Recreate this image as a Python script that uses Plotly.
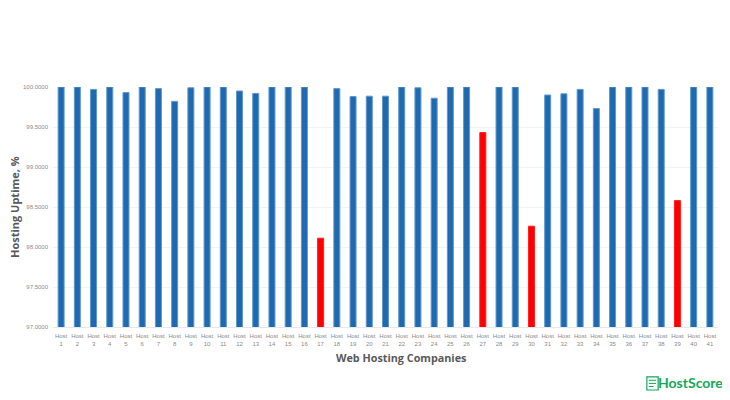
import plotly.graph_objects as go

hosts = [f"Host<br>{i}" for i in range(1, 42)]
uptime = [100, 100, 99.97, 100, 99.93, 100, 99.98, 99.82, 99.99, 100,
          100, 99.95, 99.92, 100, 100, 100, 98.11, 99.98, 99.88, 99.885,
          99.885, 100, 99.99, 99.86, 100, 100, 99.43, 100, 100, 98.26,
          99.90, 99.915, 99.97, 99.73, 100, 100, 100, 99.97, 98.58, 100, 100]
low_hosts = [17, 27, 30, 39]
y_ticks = [97, 97.5, 98, 98.5, 99, 99.5, 100]
y_labels = ["97.0000", "97.5000", "98.0000", "98.5000", "99.0000", "99.5000", "100.0000"]

colors = ["#ff0000" if i + 1 in low_hosts else "#1f69b0" for i in range(len(hosts))]
edges = ["#ff2020" if i + 1 in low_hosts else "#5f98cc" for i in range(len(hosts))]
GREEN = "#12a858"

fig = go.Figure(go.Bar(
    x=hosts, y=uptime, marker=dict(color=colors, line=dict(width=1, color=edges)), width=0.37,
))
fig.update_layout(
    width=730, height=400, autosize=False,
    margin=dict(l=45, r=20, t=79, b=81),
    paper_bgcolor="white", plot_bgcolor="white",
    showlegend=False,
    font=dict(family="Liberation Sans, Arial, sans-serif", color="#8a8a8a"),
    annotations=[
        dict(text="<b>HostScore</b>", xref="paper", yref="paper", x=1.011, y=-0.233,
             xanchor="right", yanchor="middle", showarrow=False,
             font=dict(family="Lato, Open Sans, sans-serif", size=14, color=GREEN)),
        dict(text="<b>Hosting Uptime, %</b>", xref="paper", yref="paper", x=-0.0586, y=0.5,
             textangle=-90, xanchor="center", yanchor="middle", showarrow=False,
             font=dict(family="Open Sans, sans-serif", size=11, color="#595959")),
        dict(text="<b>Web Hosting Companies</b>", xref="paper", yref="paper", x=0.524, y=-0.125,
             xanchor="center", yanchor="middle", showarrow=False,
             font=dict(family="Open Sans, sans-serif", size=10.8, color="#595959")),
    ],
    shapes=[
        dict(type="rect", xref="paper", yref="paper", x0=0.893, x1=0.910, y0=-0.2625, y1=-0.208,
             line=dict(color=GREEN, width=1.2), fillcolor="white"),
        dict(type="line", xref="paper", yref="paper", x0=0.896, x1=0.907, y0=-0.222, y1=-0.222,
             line=dict(color=GREEN, width=1)),
        dict(type="line", xref="paper", yref="paper", x0=0.896, x1=0.907, y0=-0.235, y1=-0.235,
             line=dict(color=GREEN, width=1)),
        dict(type="line", xref="paper", yref="paper", x0=0.896, x1=0.903, y0=-0.248, y1=-0.248,
             line=dict(color=GREEN, width=1)),
    ],
)
fig.update_xaxes(
    type="category", showgrid=False, showline=True, linecolor="#e8e8e8", linewidth=1,
    ticks="", tickangle=0, tickfont=dict(size=6, color="#8a8a8a"), automargin=False,
    ticklabelstandoff=3,
)
fig.update_yaxes(
    range=[97, 100], tickvals=y_ticks, ticktext=y_labels,
    showgrid=True, gridcolor="#f3f3f3", gridwidth=1, zeroline=False, showline=False,
    ticks="", tickfont=dict(size=6, color="#8a8a8a"), automargin=False,
    ticklabelstandoff=4,
)
fig.write_html("out.html")
